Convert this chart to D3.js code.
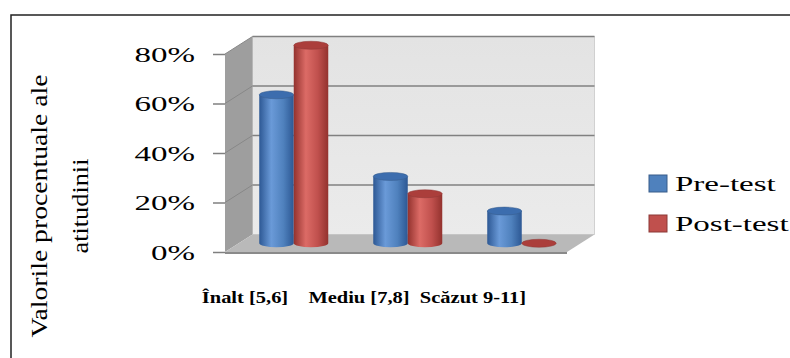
<!DOCTYPE html>
<html>
<head>
<meta charset="utf-8">
<script src="https://cdn.jsdelivr.net/npm/d3@7"></script>
<style>
	html, body { margin: 0; padding: 0; background: #fff; }
	svg { display: block; }
	text { font-family: "Liberation Serif", "Times New Roman", serif; fill: #000; }
</style>
</head>
<body>
<svg id="chart"></svg>
<script>
// data
const categories = ['Înalt [5,6]', 'Mediu [7,8]', 'Scăzut 9-11]'];
const series = ['Pre-test', 'Post-test'];
const preTest = [0.60, 0.27, 0.13];
const postTest = [0.80, 0.20, 0.0];
const yTicks = [0, 0.2, 0.4, 0.6, 0.8];
const titleLines = ['Valorile procentuale ale', 'atitudinii'];

const values = [preTest, postTest];
const W = 790;
const H = 358;

// 3d box: front plane + depth offset
const DX = 27.5;
const DY = -17.5;

const colors = {
	'Pre-test': { fill: '#4f81bd', stroke: '#385d8a', dark: '#2d5894', light: '#6a9ad8', top: '#3c6dae' },
	'Post-test': { fill: '#c0504d', stroke: '#8c3836', dark: '#93322e', light: '#dc6b66', top: '#ab3e3b' }
};

const $svg = d3.select('#chart').attr('width', W).attr('height', H);

const x = d3.scaleBand().domain(categories).range([225, 567]);
const y = d3.scaleLinear().domain([0, 0.8]).range([252, 54]);
const half = 34.5;
const xSub = d3.scaleBand()
	.domain(series)
	.range([x.bandwidth() / 2 - half - 2, x.bandwidth() / 2 + half - 2]);

// frame
$svg.append('rect')
	.attr('x', 11).attr('y', 15)
	.attr('width', 820).attr('height', 400)
	.attr('fill', '#fff')
	.attr('stroke', '#222')
	.attr('stroke-width', 1.5);

// gradients
const defs = $svg.append('defs');
series.forEach((s, i) => {
	const c = colors[s];
	const g = defs.append('linearGradient').attr('id', `cyl${i}`)
		.attr('x1', 0).attr('x2', 1).attr('y1', 0).attr('y2', 0);
	g.append('stop').attr('offset', '0%').attr('stop-color', c.dark);
	g.append('stop').attr('offset', '35%').attr('stop-color', c.light);
	g.append('stop').attr('offset', '70%').attr('stop-color', c.fill);
	g.append('stop').attr('offset', '100%').attr('stop-color', c.dark);
});
const wallGrad = defs.append('linearGradient').attr('id', 'wall')
	.attr('x1', 0).attr('x2', 0).attr('y1', 0).attr('y2', 1);
wallGrad.append('stop').attr('offset', '0%').attr('stop-color', '#e3e3e3');
wallGrad.append('stop').attr('offset', '100%').attr('stop-color', '#ebebeb');

const x0 = x.range()[0];
const x1 = x.range()[1];
const pt = (px, py) => `${px},${py}`;

// back wall
$svg.append('polygon')
	.attr('points', [pt(x0 + DX, y(0.8) + DY), pt(x1 + DX, y(0.8) + DY), pt(x1 + DX, y(0) + DY), pt(x0 + DX, y(0) + DY)].join(' '))
	.attr('fill', 'url(#wall)')
	.attr('stroke', '#c8c8c8')
	.attr('stroke-width', 0.8);

// side wall
$svg.append('polygon')
	.attr('points', [pt(x0, y(0.8)), pt(x0 + DX, y(0.8) + DY), pt(x0 + DX, y(0) + DY), pt(x0, y(0))].join(' '))
	.attr('fill', '#9e9e9e');

// floor
$svg.append('polygon')
	.attr('points', [pt(x0, y(0)), pt(x0 + DX, y(0) + DY), pt(x1 + DX, y(0) + DY), pt(x1, y(0))].join(' '))
	.attr('fill', '#b9b9b9');
$svg.append('polygon')
	.attr('points', [pt(x0, y(0)), pt(x1, y(0)), pt(x1, y(0) + 2), pt(x0, y(0) + 2)].join(' '))
	.attr('fill', '#8a8a8a');

// gridlines on back and side wall
const grid = $svg.append('g').attr('class', 'grid');
grid.selectAll('.gback')
	.data(yTicks.filter(d => d > 0))
	.enter()
	.append('line')
	.attr('class', 'gback')
	.attr('x1', x0 + DX).attr('x2', x1 + DX)
	.attr('y1', d => y(d) + DY).attr('y2', d => y(d) + DY)
	.attr('stroke', '#808080')
	.attr('stroke-width', 1.4);
grid.selectAll('.gside')
	.data(yTicks.filter(d => d > 0))
	.enter()
	.append('line')
	.attr('class', 'gside')
	.attr('x1', x0).attr('x2', x0 + DX)
	.attr('y1', d => y(d)).attr('y2', d => y(d) + DY)
	.attr('stroke', '#888')
	.attr('stroke-width', 1);

// y axis on the front edge
const yAxis = d3.axisLeft(y)
	.tickValues(yTicks)
	.tickSize(12)
	.tickPadding(8)
	.tickFormat(d3.format('.0%'));

const $axis = $svg.append('g')
	.attr('transform', `translate(${x0},0)`)
	.call(yAxis);
$axis.select('.domain').remove();
$axis.selectAll('.tick line').attr('stroke', '#7f7f7f').attr('stroke-width', 1.5);
$axis.selectAll('.tick text')
	.attr('font-size', 22)
	.attr('fill', '#000')
	.attr('transform', 'scale(1.5,1)');

// cylinders at mid depth
const mx = DX / 2;
const my = DY / 2;
const RY = 4;
const bars = [];
categories.forEach((c, ci) => {
	series.forEach((s, si) => {
		bars.push({ cat: c, s, si, v: values[si][ci] });
	});
});

const $bars = $svg.append('g').attr('class', 'bars');
const cyl = $bars.selectAll('.cyl')
	.data(bars)
	.enter()
	.append('g')
	.attr('class', 'cyl');

function geo(d) {
	const rx = xSub.bandwidth() / 2;
	const cx = x(d.cat) + xSub(d.s) + rx + mx;
	const yb = y(0) + my;
	const yt = y(d.v) + my;
	return { rx, cx, yb, yt };
}

cyl.filter(d => d.v > 0)
	.append('path')
	.attr('d', d => {
		const { rx, cx, yb, yt } = geo(d);
		return `M${cx - rx},${yt} L${cx - rx},${yb} A${rx},${RY} 0 0 0 ${cx + rx},${yb} L${cx + rx},${yt} Z`;
	})
	.attr('fill', d => `url(#cyl${d.si})`);

cyl.append('ellipse')
	.attr('cx', d => geo(d).cx)
	.attr('cy', d => geo(d).yt)
	.attr('rx', d => geo(d).rx)
	.attr('ry', RY)
	.attr('fill', d => colors[d.s].top)
	.attr('stroke', d => colors[d.s].stroke)
	.attr('stroke-width', 0.5);

// category labels
$svg.append('g')
	.selectAll('text')
	.data(categories)
	.enter()
	.append('text')
	.attr('transform', d => `translate(${x(d) + x.bandwidth() / 2 - 37},303) scale(1.28,1)`)
	.attr('text-anchor', 'middle')
	.attr('font-size', 16)
	.attr('font-weight', 'bold')
	.text(d => d);

// axis title
const $title = $svg.append('g')
	.attr('transform', 'translate(0,206) rotate(-90)');
$title.selectAll('text')
	.data(titleLines)
	.enter()
	.append('text')
	.attr('x', 0)
	.attr('y', (d, i) => 47 + i * 41)
	.attr('text-anchor', 'middle')
	.attr('font-size', 24)
	.attr('textLength', (d, i) => (i === 0 ? 263 : 95))
	.attr('lengthAdjust', 'spacingAndGlyphs')
	.text(d => d);

// legend
const legend = $svg.append('g').attr('class', 'legend');
const item = legend.selectAll('g')
	.data(series)
	.enter()
	.append('g')
	.attr('transform', (d, i) => `translate(649,${175 + i * 40})`);
item.append('rect')
	.attr('width', 18).attr('height', 17)
	.attr('fill', d => colors[d].fill)
	.attr('stroke', d => colors[d].stroke)
	.attr('stroke-width', 1);
item.append('text')
	.attr('transform', 'translate(26,16) scale(1.5,1)')
	.attr('font-size', 22)
	.text(d => d);
</script>
</body>
</html>
